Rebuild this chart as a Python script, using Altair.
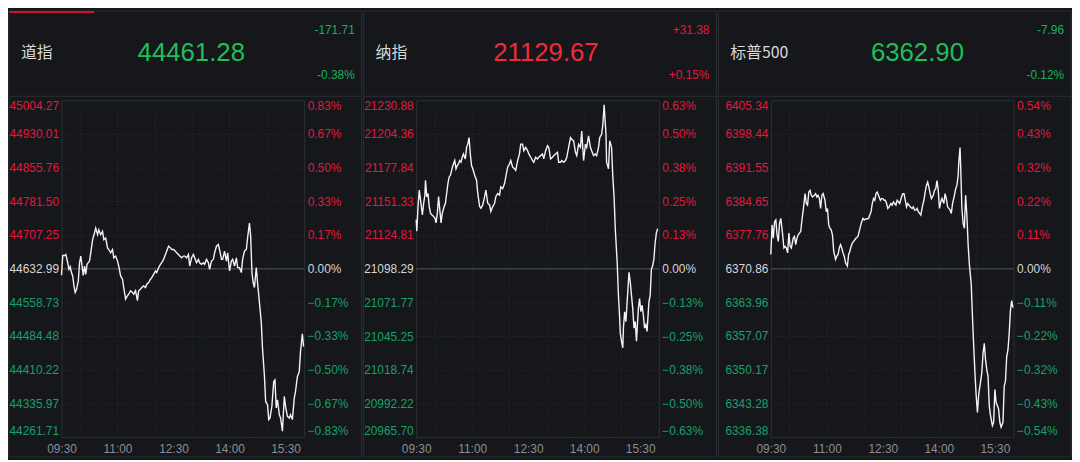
import altair as alt
import pandas as pd

# ---------------- data ----------------
names = ["道指", "纳指", "标普500"]
last_vals = ["44461.28", "21129.67", "6362.90"]
chg_vals = ["-171.71", "+31.38", "-7.96"]
pct_vals = ["-0.38%", "+0.15%", "-0.12%"]
bases = [44632.99, 21098.29, 6370.86]

dow_ticks = [44261.71, 44335.97, 44410.22, 44484.48, 44558.73, 44632.99,
             44707.25, 44781.50, 44855.76, 44930.01, 45004.27]
ndx_ticks = [20965.70, 20992.22, 21018.74, 21045.25, 21071.77, 21098.29,
             21124.81, 21151.33, 21177.84, 21204.36, 21230.88]
spx_ticks = [6336.38, 6343.28, 6350.17, 6357.07, 6363.96, 6370.86,
             6377.76, 6384.65, 6391.55, 6398.44, 6405.34]

time_ticks = [0, 90, 180, 270, 360]          # minutes after 09:30
hour_grid = [30, 90, 150, 210, 270, 330]     # 10:00 ... 15:00

dow_min = [0, 2, 5, 7, 10, 12, 14, 16, 18, 20, 22, 24, 27, 29, 31, 33, 35, 37, 39, 41,
           45, 47, 50, 53, 55, 58, 60, 63, 66, 68, 71, 74, 76, 79, 82, 84, 87, 90, 92, 95,
           98, 100, 103, 106, 108, 111, 114, 116, 119, 122, 124, 127, 129, 132, 135, 137, 140, 143, 145, 148,
           151, 153, 156, 159, 161, 164, 167, 169, 172, 175, 177, 180, 183, 185, 188, 190, 193, 196, 198, 201,
           204, 206, 209, 212, 214, 217, 220, 222, 225, 228, 230, 233, 236, 238, 241, 244, 246, 249, 252, 254,
           257, 259, 262, 265, 267, 270, 273, 275, 278, 281, 283, 286, 289, 291, 294, 297, 299, 302, 304, 306,
           308, 310, 313, 315, 318, 321, 323, 326, 328, 331, 333, 335, 338, 341, 343, 345, 347, 350, 352, 355,
           358, 360, 363, 366, 368, 371, 374, 376, 379, 382, 384, 387, 389]
dow_px = [44618.4, 44662.1, 44662.1, 44664.3, 44646.1, 44631.5, 44637.4, 44624.3, 44617.0, 44595.1,
          44580.6, 44586.4, 44606.1, 44646.1, 44660.7, 44638.8, 44618.4, 44638.8, 44620.6, 44642.5,
          44649.7, 44667.9, 44697.1, 44711.6, 44722.5, 44708.0, 44718.9, 44708.0, 44715.3, 44697.1,
          44700.7, 44678.9, 44675.2, 44667.9, 44675.2, 44657.0, 44660.7, 44649.7, 44638.8, 44617.0,
          44609.7, 44591.5, 44566.0, 44573.3, 44576.9, 44584.2, 44580.6, 44576.9, 44584.2, 44562.4,
          44584.2, 44587.9, 44591.5, 44595.1, 44591.5, 44598.8, 44602.4, 44609.7, 44613.3, 44620.6,
          44627.9, 44624.3, 44635.2, 44642.5, 44646.1, 44653.4, 44664.3, 44671.6, 44682.5, 44678.9,
          44675.2, 44675.2, 44671.6, 44667.9, 44664.3, 44660.7, 44657.0, 44660.7, 44660.7, 44657.0,
          44664.3, 44638.8, 44657.0, 44664.3, 44657.0, 44646.1, 44653.4, 44646.1, 44642.5, 44646.1,
          44642.5, 44653.4, 44646.1, 44631.5, 44649.7, 44653.4, 44667.9, 44682.5, 44686.1, 44675.2,
          44653.4, 44653.4, 44671.6, 44649.7, 44667.9, 44627.9, 44649.7, 44653.4, 44638.8, 44657.0,
          44635.2, 44635.2, 44624.3, 44653.4, 44671.6, 44675.2, 44700.7, 44733.5, 44704.3, 44624.3,
          44602.4, 44591.5, 44635.2, 44602.4, 44558.7, 44515.1, 44456.8, 44398.6, 44340.3, 44333.1,
          44300.3, 44303.9, 44329.4, 44384.0, 44387.7, 44325.8, 44344.0, 44311.2, 44303.9, 44274.8,
          44351.3, 44329.4, 44307.6, 44303.9, 44311.2, 44300.3, 44347.6, 44362.2, 44394.9, 44405.9,
          44449.5, 44489.6, 44461.28]

ndx_min = [0, 1, 3, 5, 7, 10, 12, 14, 15, 17, 19, 21, 23, 25, 28, 30, 32, 34, 36, 38,
           40, 42, 45, 47, 49, 51, 53, 55, 57, 59, 62, 64, 66, 68, 70, 72, 74, 76, 79, 81,
           83, 85, 87, 89, 91, 94, 97, 99, 102, 104, 107, 110, 112, 115, 118, 120, 123, 126, 128, 131,
           134, 136, 139, 142, 144, 147, 150, 152, 155, 158, 160, 163, 166, 168, 171, 173, 176, 179, 181, 184,
           187, 189, 192, 195, 197, 200, 203, 205, 208, 211, 213, 216, 219, 221, 224, 227, 229, 232, 234, 237,
           240, 242, 245, 248, 250, 253, 256, 258, 261, 264, 266, 269, 272, 274, 277, 280, 282, 285, 288, 290,
           293, 295, 298, 300, 302, 305, 306, 309, 311, 314, 316, 318, 320, 323, 325, 327, 328, 330, 332, 333,
           335, 337, 340, 342, 344, 346, 348, 350, 352, 354, 357, 359, 361, 363, 365, 367, 369, 371, 374, 376,
           378, 380, 382, 384, 386, 388]
ndx_px = [21136.8, 21127.8, 21147.2, 21160.1, 21152.4, 21140.7, 21149.8, 21156.2, 21167.9, 21155.0,
          21157.5, 21147.2, 21142.0, 21140.7, 21139.4, 21138.1, 21134.3, 21142.0, 21155.0, 21144.6,
          21134.3, 21142.0, 21147.2, 21149.8, 21157.5, 21165.3, 21170.5, 21171.8, 21175.7, 21179.5,
          21183.4, 21176.9, 21179.5, 21180.8, 21183.4, 21182.1, 21186.0, 21188.6, 21184.7, 21193.8,
          21196.3, 21201.5, 21188.6, 21179.5, 21176.9, 21171.8, 21167.9, 21157.5, 21147.2, 21145.9,
          21148.5, 21155.0, 21160.1, 21149.8, 21148.5, 21143.3, 21147.2, 21149.8, 21155.0, 21157.5,
          21156.2, 21162.7, 21161.4, 21165.3, 21170.5, 21178.2, 21180.8, 21183.4, 21178.2, 21176.9,
          21175.7, 21183.4, 21188.6, 21196.3, 21196.3, 21191.2, 21193.8, 21191.2, 21188.6, 21186.0,
          21183.4, 21182.1, 21186.0, 21184.7, 21186.0, 21187.3, 21188.6, 21184.7, 21191.2, 21195.1,
          21193.8, 21184.7, 21186.0, 21187.3, 21188.6, 21189.9, 21182.1, 21182.1, 21183.4, 21182.1,
          21183.4, 21186.0, 21193.8, 21201.5, 21200.2, 21198.9, 21189.9, 21187.3, 21196.3, 21193.8,
          21206.7, 21183.4, 21196.3, 21193.8, 21202.8, 21193.8, 21191.2, 21187.3, 21188.6, 21187.3,
          21193.8, 21201.5, 21204.1, 21211.9, 21227.4, 21204.1, 21182.1, 21176.9, 21198.9, 21193.8,
          21170.5, 21155.0, 21129.1, 21103.2, 21077.3, 21059.2, 21047.6, 21041.1, 21036.0, 21051.5,
          21064.4, 21056.6, 21079.9, 21095.5, 21087.7, 21077.3, 21067.0, 21051.5, 21056.6, 21041.1,
          21067.0, 21074.8, 21064.4, 21069.6, 21061.8, 21051.5, 21054.1, 21048.9, 21072.2, 21077.3,
          21098.0, 21100.6, 21105.8, 21118.7, 21126.5, 21129.67]

spx_min = [0, 2, 4, 6, 8, 10, 12, 14, 16, 19, 21, 23, 25, 27, 29, 31, 33, 36, 38, 40,
           42, 44, 46, 48, 50, 53, 55, 57, 59, 61, 63, 65, 67, 70, 72, 74, 76, 78, 80, 82,
           84, 87, 89, 91, 93, 95, 97, 99, 101, 104, 106, 108, 110, 112, 114, 116, 118, 120, 123, 125,
           127, 129, 131, 133, 135, 137, 140, 142, 144, 146, 148, 150, 152, 154, 157, 159, 161, 163, 165, 167,
           169, 171, 174, 176, 178, 180, 182, 184, 186, 188, 190, 193, 195, 197, 199, 201, 203, 205, 207, 210,
           212, 214, 216, 218, 220, 222, 224, 227, 229, 231, 233, 235, 237, 239, 241, 244, 246, 248, 250, 252,
           254, 256, 258, 261, 263, 265, 267, 269, 271, 273, 275, 278, 280, 282, 284, 286, 288, 290, 292, 295,
           297, 299, 301, 302, 304, 305, 307, 309, 311, 313, 315, 317, 319, 322, 324, 326, 328, 330, 332, 334,
           336, 339, 341, 343, 345, 347, 349, 351, 353, 356, 358, 360, 362, 364, 366, 368, 370, 373, 375, 377,
           379, 381, 383, 385, 387, 389]
spx_px = [6373.76, 6379.82, 6377.12, 6380.49, 6380.83, 6377.80, 6376.45, 6380.15, 6381.16, 6377.80,
          6375.10, 6375.44, 6375.10, 6374.09, 6378.13, 6375.44, 6375.10, 6377.12, 6377.46, 6375.78,
          6377.12, 6377.80, 6378.13, 6378.47, 6380.83, 6383.86, 6386.22, 6384.20, 6383.86, 6386.55,
          6386.89, 6385.88, 6385.54, 6385.88, 6386.22, 6385.54, 6385.88, 6385.21, 6383.19, 6385.88,
          6386.22, 6384.87, 6382.51, 6383.19, 6379.82, 6379.14, 6378.81, 6377.80, 6374.43, 6372.75,
          6373.42, 6373.76, 6375.10, 6375.78, 6375.10, 6374.09, 6373.42, 6372.07, 6371.40, 6373.76,
          6374.43, 6375.44, 6376.11, 6376.45, 6376.79, 6377.12, 6377.46, 6378.47, 6379.48, 6380.49,
          6381.16, 6380.83, 6381.03, 6381.03, 6381.16, 6381.84, 6382.51, 6384.20, 6385.21, 6384.87,
          6386.22, 6386.55, 6385.54, 6384.87, 6385.21, 6385.21, 6384.87, 6384.87, 6384.20, 6383.19,
          6383.52, 6384.20, 6383.86, 6384.53, 6384.20, 6383.86, 6384.87, 6384.53, 6384.20, 6385.54,
          6386.22, 6386.22, 6384.87, 6383.52, 6384.20, 6383.86, 6383.52, 6383.19, 6383.52, 6382.85,
          6382.85, 6383.19, 6382.51, 6382.17, 6381.84, 6383.86, 6384.87, 6386.55, 6387.90, 6388.57,
          6387.56, 6386.22, 6385.21, 6385.88, 6386.89, 6387.23, 6388.91, 6386.89, 6383.19, 6384.53,
          6385.21, 6384.20, 6386.22, 6385.21, 6383.52, 6383.19, 6382.85, 6382.17, 6384.20, 6385.88,
          6387.23, 6387.90, 6389.92, 6392.61, 6395.64, 6391.94, 6383.19, 6380.15, 6379.14, 6385.88,
          6381.84, 6375.78, 6371.74, 6367.69, 6360.96, 6354.90, 6349.51, 6344.80, 6341.43, 6345.13,
          6346.82, 6349.51, 6353.55, 6355.57, 6352.20, 6350.18, 6348.84, 6342.78, 6340.75, 6338.73,
          6339.41, 6346.14, 6343.45, 6342.78, 6342.10, 6339.41, 6338.40, 6339.41, 6346.82, 6347.83,
          6352.88, 6354.22, 6357.59, 6362.31, 6364.33, 6362.90]

# ---------------- style ----------------
BG = "#15171b"
BORDER = "#2c2f35"
GRID = "#2b2e34"
ZERO = "#3e4147"
RED = "#e3173e"
GREEN = "#17a06a"
HEAD_RED = "#f2283d"
HEAD_GREEN = "#1fbf5a"
NEUTRAL = "#d6d6d6"
TIME_COL = "#8b8e94"
NUM_FONT = "Liberation Sans"
CJK_FONT = "Noto Sans CJK SC"
LBL = 12

PW = 245
PH = 340
LEFT = 53
RIGHT = 58
TOP = 90
BOTTOM = 20

time_expr = ("(floor((570 + datum.value) / 60) < 10 ? '0' : '') + floor((570 + datum.value) / 60)"
             " + ':' + (((570 + datum.value) % 60) < 10 ? '0' : '') + ((570 + datum.value) % 60)")


def panel(i, mins, prices, ticks, big_x, red_bar=False):
    base = bases[i]
    yscale = alt.Scale(domain=[ticks[0], ticks[-1]], zero=False, nice=False)
    xscale = alt.Scale(domain=[0, 390], zero=False, nice=False)
    xaxis = alt.Axis(values=time_ticks, labelExpr=time_expr, grid=False, domain=False,
                     ticks=False, labelPadding=7, labelColor=TIME_COL, labelFontSize=LBL,
                     labelFont=NUM_FONT, labelFlush=False, title=None)
    color_expr = (f"abs(datum.value - {base}) < 0.005 ? '{NEUTRAL}' : "
                  f"(datum.value > {base} ? '{RED}' : '{GREEN}')")
    pct_expr = f"format((datum.value - {base}) / {base} * 100, '.2f') + '%'"
    df = pd.DataFrame({"m": mins, "p": prices})
    one = pd.DataFrame({"k": [0]})

    frame = alt.Chart(one).mark_rect(fill=BG, fillOpacity=0, stroke=BORDER, strokeWidth=1).encode(
        x=alt.value(-LEFT), x2=alt.value(PW + RIGHT),
        y=alt.value(-TOP), y2=alt.value(PH + BOTTOM))
    hsep = alt.Chart(one).mark_rule(color=BORDER, strokeWidth=1).encode(
        x=alt.value(-LEFT), x2=alt.value(PW + RIGHT), y=alt.value(-4))
    vgrid = alt.Chart(pd.DataFrame({"g": hour_grid})).mark_rule(
        color=GRID, strokeDash=[1, 2], strokeWidth=1).encode(
        x=alt.X("g:Q", scale=xscale, axis=xaxis))
    zero_line = alt.Chart(pd.DataFrame({"b": [base]})).mark_rule(
        color=ZERO, strokeWidth=1.5).encode(
        y=alt.Y("b:Q", scale=yscale, axis=None))

    line = alt.Chart(df).mark_line(color="#f4f4f4", strokeWidth=1.4).encode(
        x=alt.X("m:Q", scale=xscale, axis=xaxis),
        y=alt.Y("p:Q", scale=yscale, title=None,
                axis=alt.Axis(orient="left", values=ticks, format=".2f", grid=True,
                              gridColor=GRID, gridDash=[1, 2], domain=False, ticks=False,
                              labelPadding=3, labelFlush=True, labelColor={"expr": color_expr},
                              labelFontSize=LBL, labelFont=NUM_FONT)))
    right = alt.Chart(df).mark_line(opacity=0).encode(
        x=alt.X("m:Q", scale=xscale, axis=xaxis),
        y=alt.Y("p:Q", scale=yscale, title=None,
                axis=alt.Axis(orient="right", values=ticks, labelExpr=pct_expr, grid=False,
                              domain=False, ticks=False, labelPadding=3, labelFlush=True,
                              labelColor={"expr": color_expr}, labelFontSize=LBL,
                              labelFont=NUM_FONT)))

    up = chg_vals[i].startswith("+")
    name_t = alt.Chart(one).mark_text(align="left", baseline="middle", fontSize=16,
                                      font=CJK_FONT, color="#d9d9d9").encode(
        x=alt.value(-41), y=alt.value(-48), text=alt.value(names[i]))
    big_t = alt.Chart(one).mark_text(align="center", baseline="middle", fontSize=26,
                                     font=NUM_FONT, color=HEAD_RED if up else HEAD_GREEN).encode(
        x=alt.value(big_x), y=alt.value(-48), text=alt.value(last_vals[i]))
    chg_t = alt.Chart(one).mark_text(align="right", baseline="middle", fontSize=LBL,
                                     font=NUM_FONT, color=RED if up else "#1daf57").encode(
        x=alt.value(296), y=alt.value(-71), text=alt.value(chg_vals[i]))
    pct_t = alt.Chart(one).mark_text(align="right", baseline="middle", fontSize=LBL,
                                     font=NUM_FONT, color=RED if up else "#1daf57").encode(
        x=alt.value(296), y=alt.value(-25), text=alt.value(pct_vals[i]))

    layers = [frame, hsep, vgrid, zero_line, line, right, name_t, big_t, chg_t, pct_t]
    if red_bar:
        bar = alt.Chart(one).mark_rect(color="#d0102e").encode(
            x=alt.value(-LEFT), x2=alt.value(-LEFT + 86), y=alt.value(-TOP), y2=alt.value(-TOP + 2))
        layers.append(bar)
    return alt.layer(*layers).properties(width=PW, height=PH).resolve_axis(y="independent")


p1 = panel(0, dow_min, dow_px, dow_ticks, 131, red_bar=True)
p2 = panel(1, ndx_min, ndx_px, ndx_ticks, 131)
p3 = panel(2, spx_min, spx_px, spx_ticks, 148)

chart = alt.hconcat(p1, p2, p3, spacing=0).properties(
    background=BG, padding=0
).configure_view(stroke=BORDER, strokeWidth=1)

chart.save("out.html", embed_options={"renderer": "svg", "actions": False})
